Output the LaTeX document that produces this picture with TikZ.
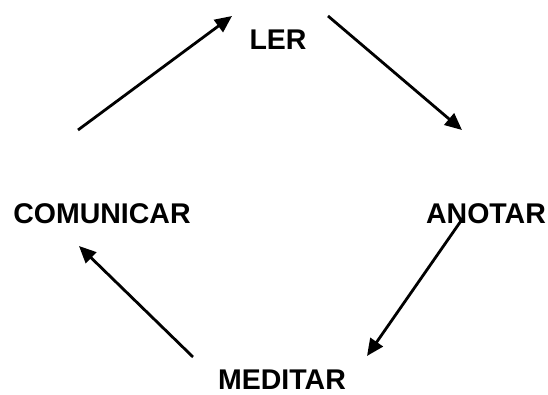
\documentclass[tikz,border=0pt]{standalone}
\usepackage{fontspec}
\setmainfont{Liberation Sans}
\usetikzlibrary{arrows.meta}
\begin{document}
\begin{tikzpicture}[x=1pt,y=1pt,
        etapa/.style={anchor=base,inner sep=0pt,font=\bfseries\fontsize{28.5}{32}\selectfont},
        seta/.style={line width=2.8pt,-{Triangle[length=17pt,width=15pt]}}]
        \useasboundingbox (0,0) rectangle (548,395);
        \node[etapa] (ler) at (278,345) {LER};
        \node[etapa] (anotar) at (486,171) {ANOTAR};
        \node[etapa] (meditar) at (282,5) {MEDITAR};
        \node[etapa] (comunicar) at (102,171) {COMUNICAR};
        \coordinate (c1) at (78,265);
        \coordinate (c2) at (232,379);
        \coordinate (c3) at (328,379);
        \coordinate (c4) at (462,265);
        \coordinate (c5) at (463,177);
        \coordinate (c6) at (367,39);
        \coordinate (c7) at (193,38);
        \coordinate (c8) at (79,149);
        \draw[seta] (c1) -- (c2);
        \draw[seta] (c3) -- (c4);
        \draw[seta] (c5) -- (c6);
        \draw[seta] (c7) -- (c8);
    \end{tikzpicture}
\end{document}
